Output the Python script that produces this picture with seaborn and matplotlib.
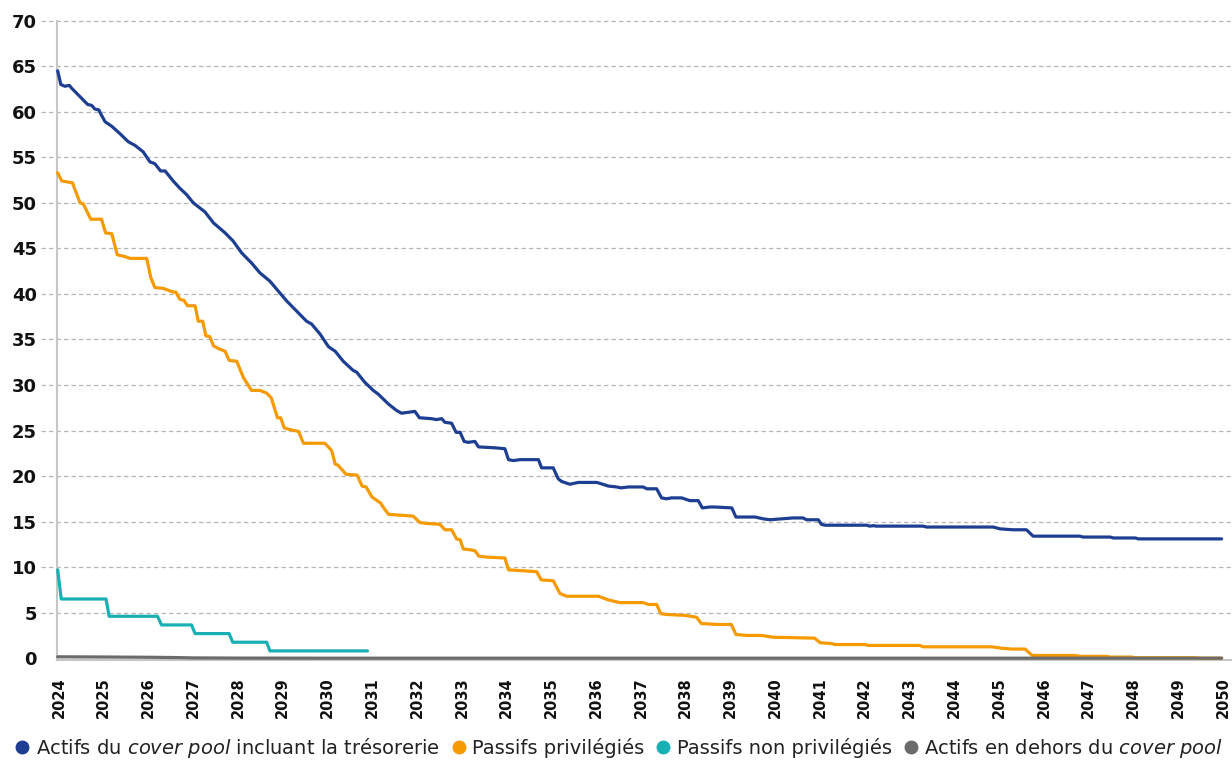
import numpy as np
import pandas as pd
import matplotlib
matplotlib.use("Agg")
import matplotlib.pyplot as plt
import seaborn as sns
from matplotlib.lines import Line2D

# ---------------- data ----------------
series_names = [
    "Actifs du cover pool incluant la trésorerie",
    "Passifs privilégiés",
    "Passifs non privilégiés",
    "Actifs en dehors du cover pool",
]
legend_labels = [
    r"Actifs du $\mathit{cover\ pool}$ incluant la trésorerie",
    "Passifs privilégiés",
    "Passifs non privilégiés",
    r"Actifs en dehors du $\mathit{cover\ pool}$",
]
colors = ["#1e3e92", "#f59a00", "#19b0b4", "#6b6b6b"]

year_ticks = list(range(2024, 2051))
y_ticks = list(range(0, 75, 5))

actifs_years = [
    2023.97, 2024.04, 2024.13, 2024.23, 2024.28, 2024.40, 2024.54, 2024.64, 2024.73, 2024.80,
    2024.89, 2024.94, 2025.03, 2025.18, 2025.36, 2025.55, 2025.70, 2025.88, 2026.03, 2026.14,
    2026.27, 2026.37, 2026.55, 2026.70, 2026.85, 2027.00, 2027.26, 2027.45, 2027.71, 2027.89,
    2028.08, 2028.30, 2028.49, 2028.71, 2028.90, 2029.09, 2029.31, 2029.53, 2029.64, 2029.83,
    2030.02, 2030.17, 2030.35, 2030.57, 2030.65, 2030.83, 2031.02, 2031.13, 2031.36, 2031.54,
    2031.65, 2031.95, 2032.05, 2032.32, 2032.43, 2032.55, 2032.62, 2032.77, 2032.87, 2032.96,
    2033.05, 2033.14, 2033.29, 2033.37, 2033.74, 2033.96, 2034.04, 2034.15, 2034.30, 2034.71,
    2034.78, 2035.04, 2035.15, 2035.23, 2035.41, 2035.60, 2036.01, 2036.08, 2036.27, 2036.46,
    2036.55, 2036.72, 2037.05, 2037.13, 2037.35, 2037.46, 2037.57, 2037.68, 2037.91, 2038.09,
    2038.28, 2038.37, 2038.54, 2038.65, 2039.03, 2039.12, 2039.55, 2039.73, 2039.88, 2040.40,
    2040.62, 2040.70, 2040.96, 2041.03, 2041.11, 2042.04, 2042.11, 2042.19, 2042.26, 2043.30,
    2043.38, 2044.87, 2045.02, 2045.31, 2045.61, 2045.76, 2046.80, 2046.88, 2047.48, 2047.55,
    2048.04, 2048.11, 2049.97,
]
actifs_values = [
    64.5, 63.0, 62.8, 62.9, 62.6, 62.0, 61.3, 60.8, 60.7, 60.3,
    60.2, 59.7, 58.9, 58.4, 57.6, 56.7, 56.3, 55.6, 54.5, 54.3,
    53.5, 53.5, 52.4, 51.6, 50.9, 50.0, 49.0, 47.8, 46.7, 45.8,
    44.5, 43.4, 42.3, 41.4, 40.3, 39.2, 38.1, 37.0, 36.7, 35.6,
    34.2, 33.7, 32.6, 31.6, 31.4, 30.3, 29.4, 29.0, 27.9, 27.2,
    26.9, 27.1, 26.4, 26.3, 26.2, 26.3, 25.9, 25.8, 24.8, 24.8,
    23.8, 23.7, 23.8, 23.2, 23.1, 23.0, 21.8, 21.7, 21.8, 21.8,
    20.9, 20.9, 19.7, 19.4, 19.1, 19.3, 19.3, 19.2, 18.9, 18.8,
    18.7, 18.8, 18.8, 18.6, 18.6, 17.6, 17.5, 17.6, 17.6, 17.3,
    17.3, 16.5, 16.6, 16.6, 16.5, 15.5, 15.5, 15.3, 15.2, 15.4,
    15.4, 15.2, 15.2, 14.7, 14.6, 14.6, 14.5, 14.55, 14.5, 14.5,
    14.4, 14.4, 14.2, 14.1, 14.1, 13.4, 13.4, 13.3, 13.3, 13.2,
    13.2, 13.1, 13.1,
]

priv_years = [
    2023.97, 2024.06, 2024.30, 2024.47, 2024.54, 2024.71, 2024.95, 2025.04, 2025.18, 2025.30,
    2025.47, 2025.59, 2025.96, 2026.05, 2026.14, 2026.33, 2026.55, 2026.61, 2026.70, 2026.79,
    2026.87, 2027.04, 2027.11, 2027.21, 2027.28, 2027.37, 2027.45, 2027.56, 2027.71, 2027.80,
    2027.97, 2028.12, 2028.30, 2028.49, 2028.64, 2028.74, 2028.88, 2028.95, 2029.03, 2029.16,
    2029.35, 2029.46, 2029.94, 2030.09, 2030.17, 2030.23, 2030.41, 2030.66, 2030.77, 2030.86,
    2030.99, 2031.08, 2031.19, 2031.24, 2031.36, 2031.62, 2031.91, 2032.06, 2032.21, 2032.51,
    2032.62, 2032.77, 2032.88, 2032.96, 2033.03, 2033.18, 2033.29, 2033.38, 2033.55, 2033.96,
    2034.04, 2034.37, 2034.67, 2034.77, 2035.04, 2035.19, 2035.34, 2036.05, 2036.27, 2036.53,
    2037.05, 2037.16, 2037.35, 2037.44, 2037.57, 2037.98, 2038.24, 2038.35, 2038.73, 2039.02,
    2039.12, 2039.36, 2039.69, 2039.95, 2040.88, 2041.00, 2041.26, 2041.33, 2042.00, 2042.08,
    2043.23, 2043.30, 2044.83, 2045.05, 2045.28, 2045.58, 2045.74, 2046.70, 2046.81, 2047.40,
    2047.48, 2047.96, 2048.04, 2049.38, 2049.49, 2049.97,
]
priv_values = [
    53.3, 52.4, 52.2, 50.0, 49.9, 48.2, 48.2, 46.7, 46.6, 44.3,
    44.1, 43.9, 43.9, 41.8, 40.7, 40.6, 40.2, 40.2, 39.4, 39.3,
    38.7, 38.7, 37.0, 37.0, 35.4, 35.3, 34.3, 34.0, 33.7, 32.7,
    32.6, 30.8, 29.4, 29.4, 29.1, 28.6, 26.4, 26.4, 25.3, 25.1,
    24.9, 23.6, 23.6, 22.8, 21.3, 21.2, 20.2, 20.1, 18.9, 18.8,
    17.7, 17.4, 17.0, 16.6, 15.8, 15.7, 15.6, 14.9, 14.8, 14.7,
    14.1, 14.1, 13.1, 13.0, 12.0, 11.9, 11.8, 11.2, 11.1, 11.0,
    9.7, 9.6, 9.5, 8.6, 8.5, 7.1, 6.8, 6.8, 6.4, 6.1,
    6.1, 5.9, 5.9, 4.9, 4.8, 4.7, 4.5, 3.8, 3.7, 3.7,
    2.6, 2.5, 2.5, 2.3, 2.2, 1.7, 1.6, 1.5, 1.5, 1.4,
    1.4, 1.25, 1.25, 1.1, 1.0, 1.0, 0.3, 0.3, 0.2, 0.2,
    0.12, 0.12, 0.05, 0.05, 0.0, 0.0,
]

nonpriv_years = [2023.97, 2024.05, 2025.05, 2025.12, 2026.20, 2026.29, 2026.96,
                 2027.04, 2027.80, 2027.88, 2028.64, 2028.71, 2030.89]
nonpriv_values = [9.7, 6.5, 6.5, 4.6, 4.6, 3.65, 3.65,
                  2.7, 2.7, 1.75, 1.75, 0.8, 0.8]

hors_years = [2023.97, 2025.0, 2026.0, 2026.6, 2027.0, 2028.0, 2030.0, 2035.0, 2040.0, 2045.0, 2049.97]
hors_values = [0.15, 0.13, 0.10, 0.07, 0.03, 0.01, 0.0, 0.0, 0.0, 0.0, 0.0]

assert len(actifs_years) == len(actifs_values)
assert len(priv_years) == len(priv_values)

frames = []
for name, xs, ys in zip(series_names,
                        [actifs_years, priv_years, nonpriv_years, hors_years],
                        [actifs_values, priv_values, nonpriv_values, hors_values]):
    frames.append(pd.DataFrame({"year": xs, "value": ys, "series": name}))
df = pd.concat(frames, ignore_index=True)

# ---------------- plot ----------------
sns.set_style("white")
plt.rcParams["font.family"] = ["DejaVu Sans"]
plt.rcParams["mathtext.fontset"] = "dejavusans"

W, H = 1232, 761
fig = plt.figure(figsize=(W / 100, H / 100), dpi=100)
ax_left, ax_right, ax_top, ax_bottom = 57, 1231, 20.7, 660
ax = fig.add_axes([ax_left / W, 1 - ax_bottom / H, (ax_right - ax_left) / W, (ax_bottom - ax_top) / H])

sns.lineplot(data=df, x="year", y="value", hue="series", hue_order=series_names,
             palette=dict(zip(series_names, colors)), estimator=None, sort=False,
             legend=False, linewidth=2.3, ax=ax)
for ln in ax.lines:
    ln.set_clip_on(False)
    ln.set_solid_joinstyle("round")
    ln.set_zorder(3)

ax.set_xlim(2023.955, 2050.18)
ax.set_ylim(-0.2, 70)

# gridlines (extend a little left of the axis like in the reference)
ext = -16 / (ax_right - ax_left)
for yv in y_ticks[1:]:
    ax.axhline(yv, xmin=ext, xmax=1, clip_on=False, color="#b5b5b5",
               lw=0.9, ls=(0, (3.5, 2.5)), zorder=1)

for s in ["top", "right"]:
    ax.spines[s].set_visible(False)
for s in ["left", "bottom"]:
    ax.spines[s].set_color("#c6c6c6")
    ax.spines[s].set_linewidth(1.5)
    ax.spines[s].set_zorder(2)

ax.set_yticks(y_ticks)
ax.set_yticklabels([str(v) for v in y_ticks], fontsize=13, fontweight="bold", color="#111111")
ax.tick_params(axis="y", length=0, pad=14.5)

ax.set_xticks(year_ticks)
ax.set_xticklabels([str(y) for y in year_ticks], rotation=90, fontsize=10.5,
                   fontweight="bold", color="#111111")
ax.tick_params(axis="x", direction="in", length=4.5, width=1, color="#c0c0c0", pad=12.5)
ax.set_xlabel("")
ax.set_ylabel("")
ax.grid(False)

handles = [Line2D([], [], marker="o", linestyle="", markersize=9,
                  markerfacecolor=c, markeredgecolor=c) for c in colors]
fig.legend(handles, legend_labels, loc="center", bbox_to_anchor=(619 / W, 1 - 748 / H),
           bbox_transform=fig.transFigure, ncol=4, frameon=False, fontsize=14,
           handlelength=0.8, handletextpad=0.3, columnspacing=0.57,
           borderaxespad=0, borderpad=0, labelcolor="#222222")

fig.savefig("out.png", dpi=100)
